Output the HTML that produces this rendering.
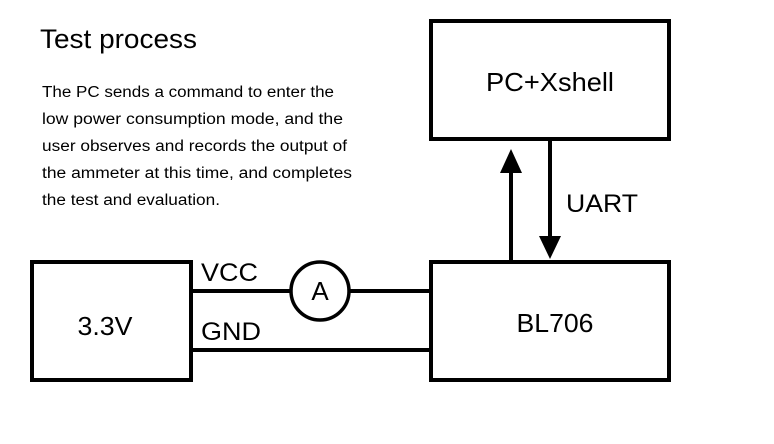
<!DOCTYPE html>
<html><head><style>body{margin:0;background:#fff}svg{display:block}</style></head><body>
<svg width="774" height="444" viewBox="0 0 774 444" xmlns="http://www.w3.org/2000/svg" font-family="Liberation Sans, sans-serif">
<rect width="774" height="444" fill="#fff"/>
<text x="40" y="48" font-size="27" textLength="157" lengthAdjust="spacingAndGlyphs">Test process</text>
<g font-size="15.5" fill="#000">
<text x="42" y="97" textLength="292" lengthAdjust="spacingAndGlyphs">The PC sends a command to enter the</text>
<text x="42" y="124" textLength="301" lengthAdjust="spacingAndGlyphs">low power consumption mode, and the</text>
<text x="42" y="151" textLength="305" lengthAdjust="spacingAndGlyphs">user observes and records the output of</text>
<text x="42" y="178" textLength="310" lengthAdjust="spacingAndGlyphs">the ammeter at this time, and completes</text>
<text x="42" y="205" textLength="178" lengthAdjust="spacingAndGlyphs">the test and evaluation.</text>
</g>
<g fill="none" stroke="#000" stroke-width="4">
<rect x="431" y="21" width="238" height="118"/>
<rect x="32" y="262" width="159" height="118"/>
<rect x="431" y="262" width="238" height="118"/>
<line x1="191" y1="291" x2="290" y2="291"/>
<line x1="350" y1="291" x2="431" y2="291"/>
<line x1="191" y1="350" x2="431" y2="350"/>
<circle cx="320" cy="291" r="29" stroke-width="3.5"/>
<line x1="511" y1="262" x2="511" y2="168"/>
<line x1="550" y1="139" x2="550" y2="242"/>
</g>
<polygon points="511,149 500,173 522,173" fill="#000"/>
<polygon points="550,259 539,236 561,236" fill="#000"/>
<g font-size="26" fill="#000" text-anchor="middle">
<text x="550" y="91" textLength="128" lengthAdjust="spacingAndGlyphs">PC+Xshell</text>
<text x="555" y="332" textLength="77" lengthAdjust="spacingAndGlyphs">BL706</text>
<text x="105" y="335" textLength="55" lengthAdjust="spacingAndGlyphs">3.3V</text>
<text x="320" y="300">A</text>
</g>
<g font-size="25" fill="#000">
<text x="566" y="212" textLength="72" lengthAdjust="spacingAndGlyphs">UART</text>
<text x="201" y="281" textLength="57" lengthAdjust="spacingAndGlyphs">VCC</text>
<text x="201" y="340" textLength="60" lengthAdjust="spacingAndGlyphs">GND</text>
</g>
</svg>
</body></html>
